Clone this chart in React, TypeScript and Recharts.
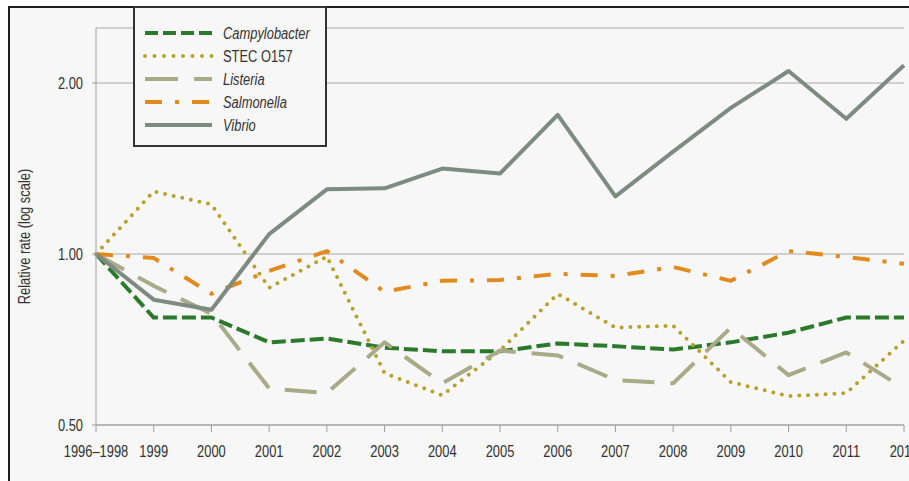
import React from 'react';
import { LineChart, Line, XAxis, YAxis, CartesianGrid } from 'recharts';

// Relative incidence vs. 1996–1998 baseline (log scale)
const years = ['1996–1998', '1999', '2000', '2001', '2002', '2003', '2004', '2005', '2006', '2007', '2008', '2009', '2010', '2011', '2012'];

const campylobacter = [1.0, 0.773, 0.773, 0.699, 0.71, 0.684, 0.674, 0.674, 0.696, 0.688, 0.679, 0.699, 0.727, 0.773, 0.773];
const stecO157 = [1.0, 1.289, 1.223, 0.872, 0.99, 0.617, 0.564, 0.676, 0.851, 0.742, 0.748, 0.595, 0.562, 0.569, 0.704];
const listeria = [1.0, 0.879, 0.785, 0.58, 0.569, 0.699, 0.592, 0.676, 0.663, 0.6, 0.592, 0.742, 0.612, 0.671, 0.58];
const salmonella = [1.0, 0.984, 0.851, 0.934, 1.012, 0.858, 0.897, 0.9, 0.923, 0.915, 0.949, 0.897, 1.012, 0.988, 0.961];
const vibrio = [1.0, 0.831, 0.798, 1.084, 1.3, 1.305, 1.414, 1.386, 1.758, 1.263, 1.515, 1.808, 2.1, 1.73, 2.15];

const yTicks = [0.5, 1, 2];

// Liberation Sans squeezed horizontally gives a narrow face
const FONT = "'Liberation Sans', Arial, sans-serif";
const FONT_SIZE = 17;
const NARROW = 0.76;
const TEXT = '#333333';
const AXIS = '#9d9d9d';
const BG = '#f7f7f7';

type Series = {
  key: string;
  name: string;
  italic: boolean;
  values: number[];
  color: string;
  width: number;
  dash?: string;
  legendDash?: string;
  cap: 'butt' | 'round';
};

const series: Series[] = [
  { key: 'campylobacter', name: 'Campylobacter', italic: true, values: campylobacter, color: '#2b7a2b', width: 4, dash: '14 5', legendDash: '13 5', cap: 'butt' },
  { key: 'stec', name: 'STEC O157', italic: false, values: stecO157, color: '#b9a02c', width: 4, dash: '0 8.8', legendDash: '0 9.5', cap: 'round' },
  { key: 'listeria', name: 'Listeria', italic: true, values: listeria, color: '#a8aa88', width: 4, dash: '32 16', legendDash: '33 16', cap: 'butt' },
  { key: 'salmonella', name: 'Salmonella', italic: true, values: salmonella, color: '#e38a1f', width: 4, dash: '17 13 4 13', legendDash: '17 13 4 13', cap: 'butt' },
  { key: 'vibrio', name: 'Vibrio', italic: true, values: vibrio, color: '#7e8b80', width: 4, cap: 'butt' },
];

const data = years.map((year, i) => {
  const row: Record<string, string | number> = { year };
  series.forEach((s) => {
    row[s.key] = s.values[i];
  });
  return row;
});

type NarrowTextProps = {
  x: number;
  y: number;
  anchor: 'start' | 'middle' | 'end';
  dy?: string;
  italic?: boolean;
  rotate?: number;
  children: React.ReactNode;
};

const NarrowText = ({ x, y, anchor, dy, italic, rotate, children }: NarrowTextProps) => (
  <g transform={`translate(${x} ${y})${rotate ? ` rotate(${rotate})` : ''} scale(${NARROW} 1)`}>
    <text
      x={0}
      y={0}
      dy={dy}
      textAnchor={anchor}
      fill={TEXT}
      fontSize={FONT_SIZE}
      fontFamily={FONT}
      fontStyle={italic ? 'italic' : 'normal'}
    >
      {children}
    </text>
  </g>
);

const XTick = (props: any) => (
  <NarrowText x={props.x} y={props.y} anchor="middle" dy="0.71em">
    {props.payload.value}
  </NarrowText>
);

const YTick = (props: any) => (
  <NarrowText x={props.x} y={props.y} anchor="end" dy="0.36em">
    {Number(props.payload.value).toFixed(2)}
  </NarrowText>
);

const YLabel = (props: any) => {
  const vb = props.viewBox || { x: 0, y: 28, width: 96, height: 397 };
  const cx = vb.x + 30;
  const cy = vb.y + vb.height / 2 + 10;
  return (
    <NarrowText x={cx} y={cy} anchor="middle" rotate={-90}>
      Relative rate (log scale)
    </NarrowText>
  );
};

const LegendBox = () => (
  <div
    style={{
      position: 'absolute',
      left: 133,
      top: 6,
      width: 194,
      height: 141,
      boxSizing: 'border-box',
      border: '2px solid #333',
      background: BG,
    }}
  >
    <svg width={190} height={137} style={{ display: 'block' }}>
      {series.map((s, i) => {
        const y = 25 + i * 23;
        return (
          <g key={s.key}>
            <line
              x1={10}
              x2={77}
              y1={y}
              y2={y}
              stroke={s.color}
              strokeWidth={s.width}
              strokeDasharray={s.legendDash}
              strokeLinecap={s.cap}
            />
            <NarrowText x={88} y={y} anchor="start" dy="0.36em" italic={s.italic}>
              {s.name}
            </NarrowText>
          </g>
        );
      })}
    </svg>
  </div>
);

export default function App() {
  return (
    <div
      style={{
        position: 'absolute',
        left: 0,
        top: 0,
        width: 909,
        height: 481,
        overflow: 'hidden',
        background: '#ffffff',
      }}
    >
      <div
        style={{
          position: 'absolute',
          left: 8,
          top: 6,
          width: 1000,
          height: 600,
          borderLeft: '2px solid #1e1e1e',
          borderTop: '2px solid #1e1e1e',
          background: BG,
        }}
      />
      <LineChart
        width={940}
        height={481}
        data={data}
        margin={{ top: 28, right: 36, bottom: 26, left: 0 }}
        style={{ position: 'absolute', left: 0, top: 0, fontFamily: FONT }}
      >
        <CartesianGrid vertical={false} stroke="#aaaaaa" strokeWidth={1} />
        <XAxis
          dataKey="year"
          height={30}
          interval={0}
          tickSize={7}
          tickMargin={13}
          stroke={AXIS}
          padding={{ left: 0, right: 0 }}
          tick={XTick}
        />
        <YAxis
          scale="log"
          domain={[0.5, 2.5]}
          ticks={yTicks}
          allowDataOverflow
          width={96}
          tickSize={4}
          tickMargin={9}
          stroke={AXIS}
          tick={YTick}
          label={{ content: YLabel }}
        />
        {series.map((s) => (
          <Line
            key={s.key}
            dataKey={s.key}
            name={s.name}
            type="linear"
            stroke={s.color}
            strokeWidth={s.width}
            strokeDasharray={s.dash}
            strokeLinecap={s.cap}
            strokeLinejoin="round"
            dot={false}
            activeDot={false}
            isAnimationActive={false}
          />
        ))}
      </LineChart>
      <LegendBox />
    </div>
  );
}
